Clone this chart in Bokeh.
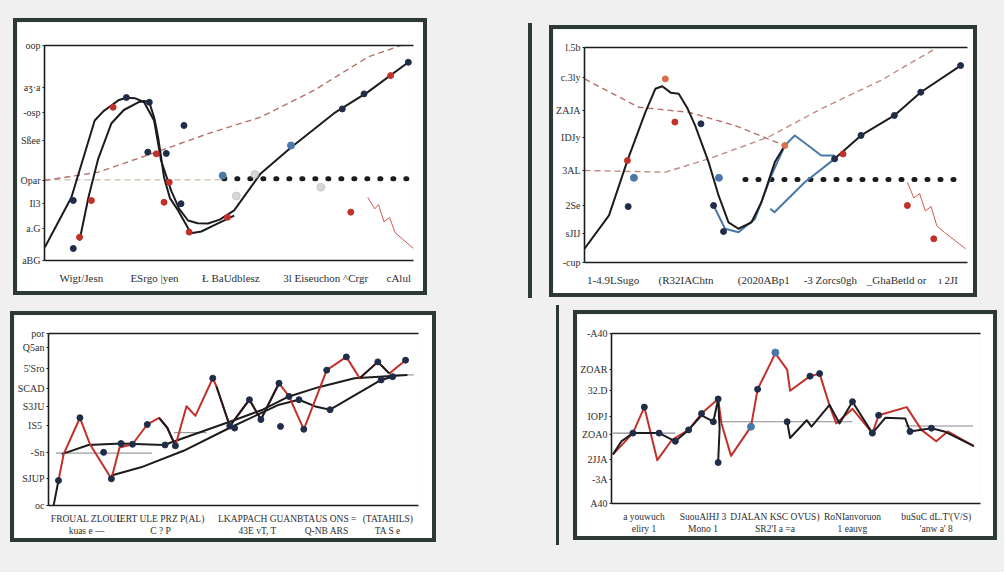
from bokeh.plotting import figure
from bokeh.models import FixedTicker, Range1d, LinearAxis, Spacer
from bokeh.layouts import row, column
from bokeh.embed import file_html
from bokeh.resources import INLINE

nan = float("nan")

# ---------------- Panel 1 (top left) ----------------
tl_yticks = [0, 15, 26.5, 37.2, 55.8, 69, 80.6, 100]
tl_ylabels = ["aBG", "a.G", "Il3", "Opar", "Sßee", "-osp", "aʒ·a", "oop"]
tl_xticks = [10, 29.8, 50.5, 76.2, 96]
tl_xlabels = ["Wigt/Jesn", "ESrgo |yen", "Ł BaUdblesz", "3l Eiseuchon ^Crgr", "cAlul"]
tl_a_x = [0.1, 7.3, 13.6, 16.0, 18.1, 20.0, 22.2, 24.5, 27.0, 29.7, 31.6, 34.3, 36.5, 38.9, 41.5, 44.3,
          47.5, 51.4, 58.6, 66.8, 78.4, 87.6, 98.6]
tl_a_y = [6.2, 29.4, 65.1, 69.5, 72.1, 74.5, 75.7, 75.5, 73.6, 65.1, 46.5, 32.6, 24.0, 18.6, 17.3, 17.2,
          19.0, 23.3, 40.5, 52.6, 68.4, 78.3, 92.2]
tl_b_x = [9.5, 11.9, 14.5, 18.1, 21.5, 25.4, 27.0, 28.4, 29.8, 30.8, 32.4, 34.0, 36.2, 39.7, 42.5, 45.9, 51.4]
tl_b_y = [9.3, 29.3, 47.0, 63.7, 70.0, 73.6, 74.2, 73.6, 66.0, 57.2, 38.6, 29.0, 23.3, 12.7, 13.5, 16.3, 20.9]
tl_trend_x = [0, 14.6, 31.6, 44.3, 58.6, 73.0, 87.6, 96.5]
tl_trend_y = [37.2, 41.1, 51.2, 59.0, 66.7, 79.1, 94.6, 100]
tl_base_x = [0, 48.6]
tl_base_y = [37.6, 37.6]
tl_dot_x = [48.6, 100]
tl_dot_y = [38, 38]
tl_red_x = [12.7, 9.5, 18.6, 30.3, 33.8, 32.4, 39.2, 49.6, 83.0, 93.8]
tl_red_y = [27.9, 10.8, 71.3, 49.6, 36.4, 27.1, 13.2, 20.1, 22.5, 86.0]
tl_navy_x = [7.8, 7.8, 22.2, 28.4, 37.8, 28.0, 33.0, 37.0, 80.7, 86.6, 98.6]
tl_navy_y = [27.9, 5.6, 75.8, 73.6, 62.8, 50.4, 49.8, 26.4, 70.5, 77.5, 92.2]
tl_blue_x = [48.3, 66.8]
tl_blue_y = [39.5, 53.5]
tl_grey_x = [74.9, 57.0, 52.0]
tl_grey_y = [34.1, 40.0, 30.0]
tl_spike_x = [87.6, 89.5, 90.5, 92.0, 93.5, 95.0, 97.0, 100.0]
tl_spike_y = [29.4, 24.0, 26.0, 18.0, 20.0, 13.0, 10.0, 5.6]

# ---------------- Panel 2 (top right) ----------------
tr_yticks = [0.1, 13.3, 26.5, 42.8, 58.3, 70.7, 86.2, 100]
tr_ylabels = ["-cup", "sJIJ", "2Se", "3AL", "IDJy", "ZAJA", "c.3ly", "l.5b"]
tr_xticks = [7.5, 26.5, 46.8, 64.2, 81.5, 95]
tr_xlabels = ["1-4.9LSugo", "(R32IAChtn", "(2020ABp1", "-3 Zorcs0gh", "_GhaBetld or", "ı 2JI"]
tr_a_x = [0, 6.4, 11.2, 15.9, 18.5, 20.3, 22.5, 24.6, 26.8, 28.9, 32.4, 35.0, 37.6, 40.2, 43.6, 46.2, 49.7, 52.3]
tr_a_y = [6.4, 21.9, 47.4, 69.9, 80.8, 82.0, 79.0, 78.5, 72.0, 63.7, 46.7, 31.2, 18.7, 15.7, 18.7, 28.0, 46.7, 54.4]
tr_c_x = [65.3, 72.2, 80.9, 87.8, 98.2]
tr_c_y = [48.2, 59.1, 68.4, 79.2, 91.6]
tr_blue1_x = [33.7, 36.7, 40.2, 44.5, 48.8, 52.3, 54.9, 58.4, 61.8, 65.3]
tr_blue1_y = [26.5, 15.7, 14.1, 20.3, 40.5, 54.4, 59.1, 54.4, 49.8, 49.8]
tr_blue2_x = [48.5, 49.6, 57.5, 65.3]
tr_blue2_y = [25.0, 23.4, 37.3, 48.2]
tr_trend1_x = [0, 14.2, 27.2, 39.3, 52.3]
tr_trend1_y = [85.4, 72.2, 69.9, 63.7, 54.4]
tr_trend2_x = [0, 21.1, 32.4, 48.0, 61.8, 77.4, 92.1]
tr_trend2_y = [42.8, 42.0, 48.2, 58.3, 71.5, 84.7, 100]
tr_dot_x = [41.9, 99]
tr_dot_y = [38.6, 38.6]
tr_red_x = [11.2, 23.6, 84.3, 91.2, 67.5]
tr_red_y = [47.4, 65.3, 26.5, 11.0, 50.5]
tr_orange_x = [21.1, 52.3]
tr_orange_y = [85.4, 54.4]
tr_navy_x = [30.4, 11.4, 33.7, 36.3, 65.3, 72.2, 80.9, 87.8, 98.2]
tr_navy_y = [64.5, 26.0, 26.5, 14.4, 48.2, 59.1, 68.4, 79.2, 91.6]
tr_blue_x = [12.9, 35.1]
tr_blue_y = [39.4, 39.4]
tr_spike_x = [84.3, 86.0, 87.5, 89.0, 90.5, 92.0, 94.0, 99.5]
tr_spike_y = [37.3, 30.0, 32.0, 24.0, 26.0, 17.0, 14.0, 6.4]

# ---------------- Panel 3 (bottom left) ----------------
bl_yticks = [0, 15.9, 30.9, 46.6, 57.6, 68.2, 79.7, 91.6, 99.8]
bl_ylabels = ["oc", "SJUP", "-Sn", "IS5 ", "S3JU", "SCAD", "5'Sro", "Q5an", "por"]
bl_xticks = [10.3, 30.3, 56.5, 75.2, 91.7]
bl_xlabels = ["FROUAL ZLOUL\nkuas e —", "IERT ULE PRZ P(AL)\nC ? P", "LKAPPACH GUAN\n43E vT, T",
              "BTAUS ONS =\nQ-NB ARS", "(TATAHILS)\nTA S e"]
bl_red_x = [2.7, 4.1, 8.5, 11.2, 17.0, 19.2, 22.7, 26.7, 29.9, 32.1, 34.3, 37.3, 39.7, 44.4, 45.4, 49.0,
            54.3, 57.4, 62.3, 65.0, 69.0, 75.2, 80.5, 84.1, 89.0, 92.1, 96.5]
bl_red_y = [14.5, 29.9, 51.0, 35.6, 15.5, 33.7, 35.6, 47.1, 51.0, 45.2, 34.7, 57.7, 52.1, 74.0, 69.2, 46.2,
            61.5, 50.0, 71.1, 63.4, 44.3, 78.7, 86.4, 74.0, 83.5, 76.8, 84.5]
bl_blk_x = [1.4, 2.7, nan, 29.9, 32.1, 34.3, nan, 45.4, 49.0, 54.3, 57.4, 62.3, nan, 84.1, 89.0, 92.1]
bl_blk_y = [0.2, 14.5, nan, 51.0, 45.2, 34.7, nan, 69.2, 46.2, 61.5, 50.0, 71.1, nan, 74.0, 83.5, 76.8]
bl_ta_x = [3.6, 10.8, 19.6, 31.2, 41.9, 50.7, 57.9, 65.0, 73.0, 82.7, 97.0]
bl_ta_y = [29.9, 35.2, 36.0, 35.2, 43.3, 50.0, 55.7, 63.4, 68.8, 74.0, 75.9]
bl_tb_x = [17.0, 25.0, 36.5, 49.0, 62.3, 67.7, 72.1, 76.1, 89.9, 93.0]
bl_tb_y = [17.4, 22.2, 31.8, 45.2, 58.6, 61.5, 57.6, 55.7, 73.0, 74.9]
bl_ref_x = [2.0, 28.0, nan, 33.9, 42.7, nan, 92.5, 98.7]
bl_ref_y = [30.5, 30.5, nan, 42.4, 42.4, nan, 75.9, 75.9]
bl_pt_x = [2.7, 8.5, 14.9, 17.0, 19.6, 22.7, 26.7, 31.5, 34.3, 44.4, 49.0, 50.3, 54.3, 57.4, 62.3, 62.7,
           65.0, 67.7, 69.0, 75.2, 76.1, 80.5, 89.0, 89.9, 93.0, 96.5]
bl_pt_y = [14.5, 51.0, 30.9, 15.5, 36.0, 35.6, 47.1, 35.2, 34.7, 74.0, 46.2, 45.0, 61.5, 50.0, 71.1, 46.0,
           63.4, 61.5, 44.3, 78.7, 55.7, 86.4, 83.5, 73.0, 74.9, 84.5]

# ---------------- Panel 4 (bottom right) ----------------
br_yticks = [0.2, 14, 26, 40.4, 51, 66.3, 78.7, 99.8]
br_ylabels = ["A40", "-3A", "2JJA", "ZOA0", "IOPJ", "32.D", "ZOAR", "-A40"]
br_xticks = [8.8, 24.8, 44.3, 65.3, 88.0]
br_xlabels = ["a youwuch\neliry 1", "SuouAlHJ 3\nMono 1", "DJALAN KSC OVUS)\nSR2'I a =a",
              "RoNIanvoruon\n1 eauvg", "buSuC dL.T'(V/S)\n'anw a' 8"]
br_red_x = [0.4, 5.8, 8.9, 12.4, 16.4, 20.9, 24.4, 28.9, 29.8, 32.4, 37.8, 39.6, 44.4, 47.6, 48.4, 53.8,
            56.4, 59.1, 60.9, 65.3, 70.7, 72.4, 80.0, 84.0, 88.0, 91.1, 98.2]
br_red_y = [28.9, 41.4, 56.7, 25.5, 37.5, 43.3, 52.9, 61.5, 47.1, 28.0, 45.2, 67.2, 88.3, 78.7, 66.3, 74.9,
            76.4, 57.6, 47.1, 55.7, 41.4, 51.9, 56.7, 43.3, 36.6, 42.4, 33.7]
br_blk_x = [0.4, 2.7, 5.8, 12.9, 17.3, 20.9, 24.4, 27.6, 28.9, 29.3, 28.9, nan, 47.6, 48.4, 52.9, 54.2,
            59.1, 61.8, 65.3, 70.7, 74.2, 79.6, 80.9, 86.7, 90.2, 98.2]
br_blk_y = [28.9, 36.6, 41.4, 41.4, 36.6, 43.3, 51.9, 48.1, 61.5, 44.3, 24.1, nan, 48.1, 38.5, 49.0, 45.2,
            58.0, 47.1, 59.9, 41.4, 50.4, 50.0, 42.4, 44.3, 42.4, 33.7]
br_ref_x = [0.4, 17.3, nan, 29.8, 65.3, nan, 79.6, 98.0]
br_ref_y = [41.4, 41.4, nan, 48.1, 48.1, nan, 45.6, 45.6]
br_pt_x = [5.8, 8.9, 12.9, 17.3, 20.9, 24.4, 27.6, 28.9, 28.9, 39.6, 53.8, 56.4, 47.6, 65.3, 70.7,
           80.9, 86.7, 72.4]
br_pt_y = [41.4, 56.7, 41.4, 36.6, 43.3, 52.9, 48.1, 61.5, 24.1, 67.2, 74.9, 76.4, 48.1, 59.9, 41.4,
           42.4, 44.3, 51.9]
br_bpt_x = [44.4, 37.8]
br_bpt_y = [88.8, 45.2]

# ---------------- styling ----------------
FRAME = "#2c3a33"
PAGE = "#f0f0f0"
INK = "#1c1c1e"
RED = "#c2302a"
NAVY = "#1f2d48"
BLUE = "#4a78a8"
TXT = "#2e2e2e"
FONT = "Liberation Serif"


def make_panel(w, h, ml, mr, mt, mb, yticks, ylabels, xticks, xlabels, xfs="11px", xstand=5):
    p = figure(width=w, height=h, x_range=Range1d(0, 100), y_range=Range1d(0, 100),
               output_backend="svg", toolbar_location=None,
               min_border_left=ml, min_border_right=mr, min_border_top=mt, min_border_bottom=mb,
               background_fill_color="white", border_fill_color="white", outline_line_color=None)
    p.grid.visible = False
    xa = p.xaxis[0]
    xa.ticker = FixedTicker(ticks=xticks)
    xa.major_label_overrides = {t: s for t, s in zip(xticks, xlabels)}
    xa.major_tick_line_color = None
    xa.minor_tick_line_color = None
    xa.axis_line_color = INK
    xa.axis_line_width = 1.6
    xa.major_label_text_font = FONT
    xa.major_label_text_font_size = xfs
    xa.major_label_text_color = TXT
    xa.major_label_standoff = xstand
    ya = p.yaxis[0]
    ya.ticker = FixedTicker(ticks=yticks)
    ya.major_label_overrides = {t: s for t, s in zip(yticks, ylabels)}
    ya.major_tick_in = 0
    ya.major_tick_out = 2
    ya.major_tick_line_color = INK
    ya.minor_tick_line_color = None
    ya.axis_line_color = INK
    ya.axis_line_width = 1.6
    ya.major_label_text_font = FONT
    ya.major_label_text_font_size = "10px"
    ya.major_label_text_color = TXT
    ya.major_label_standoff = 2
    top = LinearAxis(ticker=FixedTicker(ticks=[]), axis_line_color=INK, axis_line_width=1.4,
                     major_tick_line_color=None, minor_tick_line_color=None,
                     major_label_text_font_size="0px")
    p.add_layout(top, "above")
    return p


def framed(fig, W, H, t=4):
    bar = {"background-color": FRAME}
    top = Spacer(width=W, height=t, styles=bar)
    left = Spacer(width=t, height=H - 2 * t, styles=bar)
    right = Spacer(width=t, height=H - 2 * t, styles=bar)
    bottom = Spacer(width=W, height=t, styles=bar)
    return column(top, row(left, fig, right), bottom)


# Panel 1
p1 = make_panel(406, 269, 26, 10, 23, 31, tl_yticks, tl_ylabels, tl_xticks, tl_xlabels)
p1.line(tl_base_x, tl_base_y, line_color="#c9b8a8", line_width=1.5, line_dash="6 4", line_alpha=0.8)
p1.line(tl_trend_x, tl_trend_y, line_color="#b5706a", line_width=1.4, line_dash="6 4")
p1.line(tl_dot_x, tl_dot_y, line_color=INK, line_width=5, line_dash="1 12", line_cap="round")
p1.line(tl_a_x, tl_a_y, line_color=INK, line_width=2, line_join="round")
p1.line(tl_b_x, tl_b_y, line_color=INK, line_width=2, line_join="round")
p1.line(tl_spike_x, tl_spike_y, line_color=RED, line_width=1, line_alpha=0.8)
p1.scatter(tl_grey_x, tl_grey_y, size=8, color="#b0b0b0", alpha=0.5)
p1.scatter(tl_red_x, tl_red_y, size=6, color=RED)
p1.scatter(tl_navy_x, tl_navy_y, size=6, color=NAVY)
p1.scatter(tl_blue_x, tl_blue_y, size=7, color=BLUE)

# Panel 2
p2 = make_panel(420, 264, 29, 6, 18, 31, tr_yticks, tr_ylabels, tr_xticks, tr_xlabels)
p2.line(tr_trend2_x, tr_trend2_y, line_color="#c08a80", line_width=1.4, line_dash="6 4")
p2.line(tr_trend1_x, tr_trend1_y, line_color="#b5706a", line_width=1.4, line_dash="6 4")
p2.line(tr_dot_x, tr_dot_y, line_color=INK, line_width=5, line_dash="1 12", line_cap="round")
p2.line(tr_blue1_x, tr_blue1_y, line_color=BLUE, line_width=2, line_join="round")
p2.line(tr_blue2_x, tr_blue2_y, line_color=BLUE, line_width=2, line_join="round")
p2.line(tr_a_x, tr_a_y, line_color=INK, line_width=2, line_join="round")
p2.line(tr_c_x, tr_c_y, line_color=INK, line_width=2)
p2.line(tr_spike_x, tr_spike_y, line_color=RED, line_width=1, line_alpha=0.8)
p2.scatter(tr_red_x, tr_red_y, size=6, color=RED)
p2.scatter(tr_orange_x, tr_orange_y, size=6, color="#d9704a")
p2.scatter(tr_navy_x, tr_navy_y, size=6, color=NAVY)
p2.scatter(tr_blue_x, tr_blue_y, size=7, color=BLUE)

# Panel 3
p3 = make_panel(418, 223, 29, 14, 18, 31, bl_yticks, bl_ylabels, bl_xticks, bl_xlabels, xfs="9.5px", xstand=2)
p3.line(bl_ref_x, bl_ref_y, line_color="#9a9a9a", line_width=1.2)
p3.line(bl_ta_x, bl_ta_y, line_color=INK, line_width=2, line_join="round")
p3.line(bl_tb_x, bl_tb_y, line_color=INK, line_width=2, line_join="round")
p3.line(bl_red_x, bl_red_y, line_color=RED, line_width=2, line_join="round")
p3.line(bl_blk_x, bl_blk_y, line_color=INK, line_width=2, line_join="round")
p3.scatter(bl_pt_x, bl_pt_y, size=6, color=NAVY)

# Panel 4
p4 = make_panel(416, 222, 28, 13, 19, 29, br_yticks, br_ylabels, br_xticks, br_xlabels, xfs="9.5px", xstand=2)
p4.line(br_ref_x, br_ref_y, line_color="#8a8a8a", line_width=1.2)
p4.line(br_red_x, br_red_y, line_color=RED, line_width=2, line_join="round")
p4.line(br_blk_x, br_blk_y, line_color=INK, line_width=2, line_join="round")
p4.scatter(br_pt_x, br_pt_y, size=6, color=NAVY)
p4.scatter(br_bpt_x, br_bpt_y, size=7, color=BLUE)

bar = {"background-color": FRAME}
top_row = row(
    Spacer(width=13, height=10),
    column(Spacer(width=10, height=18), framed(p1, 414, 277)),
    Spacer(width=101, height=10),
    column(Spacer(width=4, height=23), Spacer(width=4, height=275, styles=bar)),
    Spacer(width=17, height=10),
    column(Spacer(width=10, height=25), framed(p2, 428, 272)),
    Spacer(width=27, height=10),
)
bottom_row = row(
    Spacer(width=10, height=10),
    column(Spacer(width=10, height=13), framed(p3, 426, 231)),
    Spacer(width=120, height=10),
    column(Spacer(width=3, height=7), Spacer(width=3, height=240, styles=bar)),
    Spacer(width=14, height=10),
    column(Spacer(width=10, height=12), framed(p4, 424, 230)),
)
layout = column(top_row, bottom_row, Spacer(width=10, height=27), styles={"background-color": PAGE})

open("out.html", "w").write(file_html(layout, INLINE))
